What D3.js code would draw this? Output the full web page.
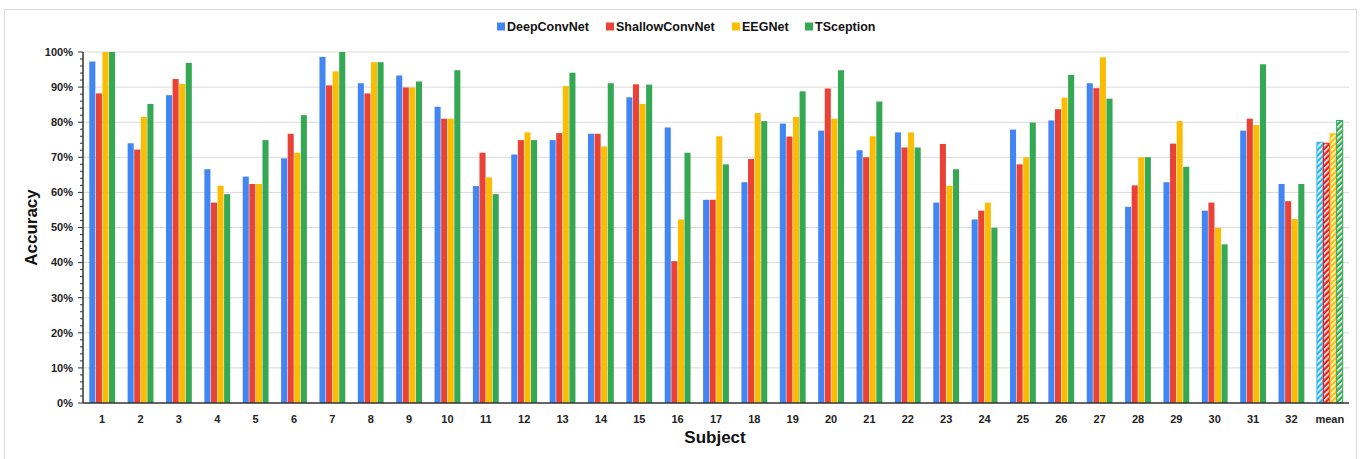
<!DOCTYPE html>
<html>
<head>
<meta charset="utf-8">
<script src="https://cdn.jsdelivr.net/npm/d3@7"></script>
<style>
  body { margin: 0; background: #fff; }
  svg { font-family: "Liberation Sans", Arial, sans-serif; }
</style>
</head>
<body>
<div id="chart"></div>
<script>
// categories and series (accuracy, %)
const subjects = d3.range(1, 33).map(String).concat(["mean"]);
const models = ["DeepConvNet", "ShallowConvNet", "EEGNet", "TSception"];
const colors = ["#4285f4", "#ea4335", "#fbbc04", "#34a853"];
const meanColors = ["#2bb5f0", "#f21b1b", "#fbbc04", "#34a853"];

const deepConvNet = [97.3, 74.0, 87.7, 66.6, 64.5, 69.7, 98.6, 91.1, 93.3, 84.4, 61.8, 70.8, 74.9, 76.7, 87.1, 78.5,
  57.9, 62.9, 79.6, 77.6, 72.0, 77.1, 57.1, 52.3, 77.9, 80.5, 91.1, 55.9, 62.9, 54.8, 77.6, 62.4, 74.3];
const shallowConvNet = [88.2, 72.2, 92.3, 57.1, 62.4, 76.7, 90.5, 88.2, 89.9, 81.0, 71.3, 74.9, 76.9, 76.7, 90.8, 40.4,
  57.9, 69.5, 75.9, 89.6, 70.0, 72.8, 73.8, 54.8, 68.0, 83.7, 89.7, 62.0, 73.9, 57.1, 81.0, 57.5, 74.0];
const eegNet = [100, 81.5, 90.9, 61.9, 62.4, 71.3, 94.5, 97.1, 89.9, 81.0, 64.3, 77.1, 90.3, 73.1, 85.2, 52.3,
  76.0, 82.6, 81.5, 81.0, 76.0, 77.1, 61.9, 57.1, 70.0, 87.0, 98.5, 70.0, 80.3, 49.9, 79.2, 52.4, 76.7];
const tsception = [100, 85.2, 96.9, 59.5, 74.9, 82.0, 100, 97.1, 91.6, 94.8, 59.5, 74.9, 94.1, 91.1, 90.7, 71.3,
  68.0, 80.3, 88.8, 94.8, 85.9, 72.8, 66.6, 49.9, 79.9, 93.5, 86.7, 70.0, 67.3, 45.2, 96.5, 62.4, 80.5];
const series = [deepConvNet, shallowConvNet, eegNet, tsception];
const yTicks = d3.range(0, 101, 10);

const width = 1361, height = 459;
const margin = {left: 83, right: 12, top: 52, bottom: 56};

const svg = d3.select("#chart").append("svg")
  .attr("width", width).attr("height", height);

// outer frame
svg.append("rect")
  .attr("x", 4.5).attr("y", 9.5).attr("width", 1352).attr("height", 470)
  .attr("fill", "none").attr("stroke", "#d9d9d9");

// hatch patterns for the mean group
const defs = svg.append("defs");
meanColors.forEach((c, i) => {
  const p = defs.append("pattern")
    .attr("id", "hatch" + i)
    .attr("patternUnits", "userSpaceOnUse")
    .attr("width", 4).attr("height", 4)
    .attr("patternTransform", "rotate(45)");
  p.append("rect").attr("width", 4).attr("height", 4).attr("fill", c);
  p.append("rect").attr("x", 0).attr("width", 1.6).attr("height", 4).attr("fill", "#fff");
});

const x0 = d3.scaleBand()
  .domain(subjects)
  .range([margin.left, 1349])
  .paddingInner(0.3).paddingOuter(0.15);

const x1 = d3.scaleBand()
  .domain(models)
  .range([0, x0.bandwidth()])
  .padding(0.08);

const y = d3.scaleLinear()
  .domain([0, 100])
  .range([height - margin.bottom, margin.top]);

// gridlines
svg.append("g")
  .selectAll("line")
  .data(yTicks.slice(1))
  .join("line")
  .attr("x1", margin.left).attr("x2", 1349)
  .attr("y1", d => y(d)).attr("y2", d => y(d))
  .attr("stroke", "#d9d9d9").attr("stroke-width", 1);

// bars
const groups = svg.append("g")
  .selectAll("g")
  .data(subjects)
  .join("g")
  .attr("transform", d => `translate(${x0(d)},0)`);

groups.selectAll("rect")
  .data((d, gi) => models.map((m, k) => ({model: m, k: k, value: series[k][gi], mean: d === "mean"})))
  .join("rect")
  .attr("x", d => x1(d.model))
  .attr("width", x1.bandwidth())
  .attr("y", d => y(d.value))
  .attr("height", d => y(0) - y(d.value))
  .attr("fill", d => d.mean ? `url(#hatch${d.k})` : colors[d.k])
  .attr("stroke", d => d.mean ? meanColors[d.k] : "none")
  .attr("stroke-width", 1);

// y axis with minor ticks
const yAxis = svg.append("g")
  .attr("transform", `translate(${margin.left},0)`);
yAxis.append("line")
  .attr("y1", y(100)).attr("y2", y(0))
  .attr("stroke", "#333").attr("stroke-width", 1.5);
yAxis.selectAll("line.minor")
  .data(d3.range(0, 101, 2))
  .join("line").attr("class", "minor")
  .attr("x1", d => d % 10 === 0 ? -5 : -3).attr("x2", 0)
  .attr("y1", d => y(d)).attr("y2", d => y(d))
  .attr("stroke", "#333").attr("stroke-width", 1);
yAxis.selectAll("text")
  .data(yTicks)
  .join("text")
  .attr("x", -10)
  .attr("y", d => y(d))
  .attr("dy", "0.35em")
  .attr("text-anchor", "end")
  .attr("font-size", 11).attr("font-weight", "bold").attr("fill", "#222")
  .text(d => d + "%");

// x axis
const xAxis = svg.append("g");
xAxis.append("line")
  .attr("x1", margin.left).attr("x2", 1349)
  .attr("y1", y(0)).attr("y2", y(0))
  .attr("stroke", "#333").attr("stroke-width", 1.5);
xAxis.selectAll("text")
  .data(subjects)
  .join("text")
  .attr("x", d => x0(d) + x0.bandwidth() / 2)
  .attr("y", y(0) + 20)
  .attr("text-anchor", "middle")
  .attr("font-size", 11).attr("font-weight", "bold").attr("fill", "#222")
  .text(d => d);

// axis titles
svg.append("text")
  .attr("transform", `translate(37,${(y(0) + y(100)) / 2}) rotate(-90)`)
  .attr("text-anchor", "middle")
  .attr("font-size", 17).attr("font-weight", "bold").attr("fill", "#111")
  .text("Accuracy");

svg.append("text")
  .attr("x", 715)
  .attr("y", 443)
  .attr("text-anchor", "middle")
  .attr("font-size", 17).attr("font-weight", "bold").attr("fill", "#111")
  .text("Subject");

// legend
const legendX = [497, 606, 732, 805];
const legend = svg.append("g")
  .selectAll("g")
  .data(models)
  .join("g")
  .attr("transform", (d, i) => `translate(${legendX[i]},27)`);
legend.append("rect")
  .attr("x", 0).attr("y", -4.5).attr("width", 8).attr("height", 8)
  .attr("fill", (d, i) => colors[i]);
legend.append("text")
  .attr("x", 10).attr("y", 0).attr("dy", "0.35em")
  .attr("font-size", 12.5).attr("font-weight", "bold").attr("fill", "#111")
  .text(d => d);
</script>
</body>
</html>
